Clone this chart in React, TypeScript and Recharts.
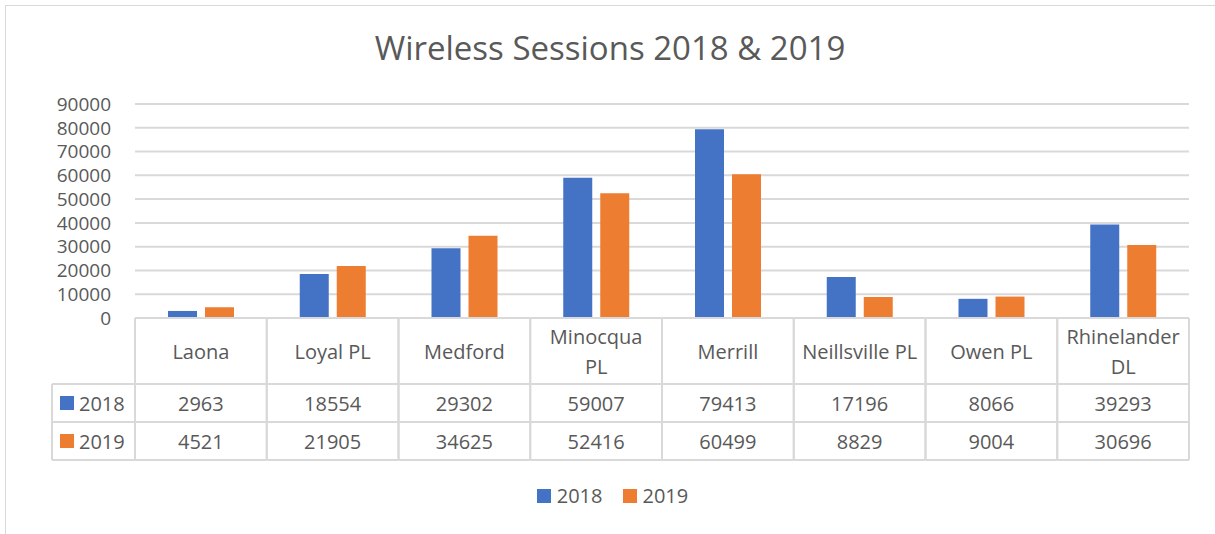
import { BarChart, Bar, XAxis, YAxis, CartesianGrid, Legend } from 'recharts'

const categories = ['Laona', 'Loyal PL', 'Medford', 'Minocqua PL', 'Merrill', 'Neillsville PL', 'Owen PL', 'Rhinelander DL']
const sessions2018 = [2963, 18554, 29302, 59007, 79413, 17196, 8066, 39293]
const sessions2019 = [4521, 21905, 34625, 52416, 60499, 8829, 9004, 30696]
const seriesNames = ['2018', '2019']
const yTicks = [0, 10000, 20000, 30000, 40000, 50000, 60000, 70000, 80000, 90000]
// Excel wrapped these two headers onto two lines
const wrappedHeaders = ['Minocqua PL', 'Rhinelander DL']

const BLUE = '#4472C4'
const ORANGE = '#ED7D31'
const LINE = '#d9d9d9'
const TEXT = '#595959'
const FONT = '"Open Sans", sans-serif'

const W = 1215
const H = 534
const HEADER_H = 66
const ROW_H = 38
const LEGEND_COL_W = 83

const data = categories.map((name, i) => ({
  name,
  '2018': sessions2018[i],
  '2019': sessions2019[i],
}))

const colors = [BLUE, ORANGE]
const rows = [sessions2018, sessions2019]

function TableTick(props: any) {
  const { x, y, payload, index, width, visibleTicksCount } = props
  const band = width / (visibleTicksCount || categories.length)
  const left = x - band / 2
  const right = x + band / 2
  const name: string = payload.value
  const lines = wrappedHeaders.includes(name)
    ? [name.slice(0, name.lastIndexOf(' ')), name.slice(name.lastIndexOf(' ') + 1)]
    : [name]
  const bottom = y + HEADER_H + ROW_H * rows.length

  return (
    <g fontFamily={FONT} fontSize={20} fill={TEXT}>
      <line x1={left} x2={left} y1={y} y2={bottom} stroke={LINE} strokeWidth={2} />
      <line x1={right} x2={right} y1={y} y2={bottom} stroke={LINE} strokeWidth={2} />
      <line x1={left} x2={right} y1={y} y2={y} stroke={LINE} strokeWidth={2} />
      {lines.map((l, k) => (
        <text
          key={k}
          x={x}
          y={y + HEADER_H / 2 + (k - (lines.length - 1) / 2) * 30}
          textAnchor="middle"
          dominantBaseline="central"
        >
          {l}
        </text>
      ))}
      {rows.map((r, k) => {
        const top = y + HEADER_H + ROW_H * k
        return (
          <g key={k}>
            <line x1={left} x2={right} y1={top} y2={top} stroke={LINE} strokeWidth={2} />
            <text x={x} y={top + ROW_H / 2} textAnchor="middle" dominantBaseline="central">
              {r[index]}
            </text>
          </g>
        )
      })}
      <line x1={left} x2={right} y1={bottom} y2={bottom} stroke={LINE} strokeWidth={2} />
      {index === 0 && (
        <g>
          <line x1={left - LEGEND_COL_W} x2={left - LEGEND_COL_W} y1={y + HEADER_H} y2={bottom} stroke={LINE} strokeWidth={2} />
          {rows.map((_, k) => {
            const top = y + HEADER_H + ROW_H * k
            return (
              <g key={k}>
                <line x1={left - LEGEND_COL_W} x2={left} y1={top} y2={top} stroke={LINE} strokeWidth={2} />
                <rect x={left - LEGEND_COL_W + 8} y={top + ROW_H / 2 - 7} width={14} height={14} fill={colors[k]} />
                <text x={left - LEGEND_COL_W + 27} y={top + ROW_H / 2} dominantBaseline="central">
                  {seriesNames[k]}
                </text>
              </g>
            )
          })}
          <line x1={left - LEGEND_COL_W} x2={left} y1={bottom} y2={bottom} stroke={LINE} strokeWidth={2} />
        </g>
      )}
    </g>
  )
}

function LegendContent() {
  return (
    <div style={{ display: 'flex', justifyContent: 'center', gap: 20, fontFamily: FONT, fontSize: 20, color: TEXT, paddingLeft: 10 }}>
      {seriesNames.map((s, i) => (
        <div key={s} style={{ display: 'flex', alignItems: 'center', gap: 6 }}>
          <span style={{ display: 'inline-block', width: 14, height: 14, background: colors[i] }} />
          <span>{s}</span>
        </div>
      ))}
    </div>
  )
}

export default function App() {
  return (
    <div style={{ position: 'absolute', left: 0, top: 0, width: W, height: H, background: '#fff', overflow: 'hidden' }}>
      <div
        style={{
          position: 'absolute',
          left: 5,
          top: 5,
          width: W,
          height: H + 10,
          border: `1px solid ${LINE}`,
        }}
      />
      <div
        style={{
          position: 'absolute',
          left: 5,
          width: W - 5,
          top: 25,
          textAlign: 'center',
          fontFamily: FONT,
          fontSize: 33,
          color: TEXT,
        }}
      >
        Wireless Sessions 2018 &amp; 2019
      </div>
      <div style={{ position: 'absolute', left: 0, top: 0 }}>
        <BarChart
          width={W}
          height={H}
          data={data}
          margin={{ top: 104, right: 26, left: 0, bottom: 74 }}
          barSize={29}
          barGap={8}
        >
          <CartesianGrid vertical={false} stroke={LINE} strokeWidth={2} />
          <YAxis
            width={135}
            domain={[0, 90000]}
            ticks={yTicks}
            interval={0}
            axisLine={false}
            tickLine={false}
            tickSize={0}
            tickMargin={24}
            tick={{ fill: TEXT, fontSize: 19, fontFamily: FONT }}
          />
          <XAxis
            dataKey="name"
            height={HEADER_H + ROW_H * 2}
            interval={0}
            axisLine={false}
            tickLine={false}
            tickSize={0}
            tickMargin={0}
            tick={<TableTick />}
          />
          <Legend
            verticalAlign="middle"
            align="center"
            content={<LegendContent />}
            wrapperStyle={{ top: 482, left: 0, width: W }}
          />
          <Bar dataKey="2018" fill={BLUE} isAnimationActive={false} />
          <Bar dataKey="2019" fill={ORANGE} isAnimationActive={false} />
        </BarChart>
      </div>
    </div>
  )
}
